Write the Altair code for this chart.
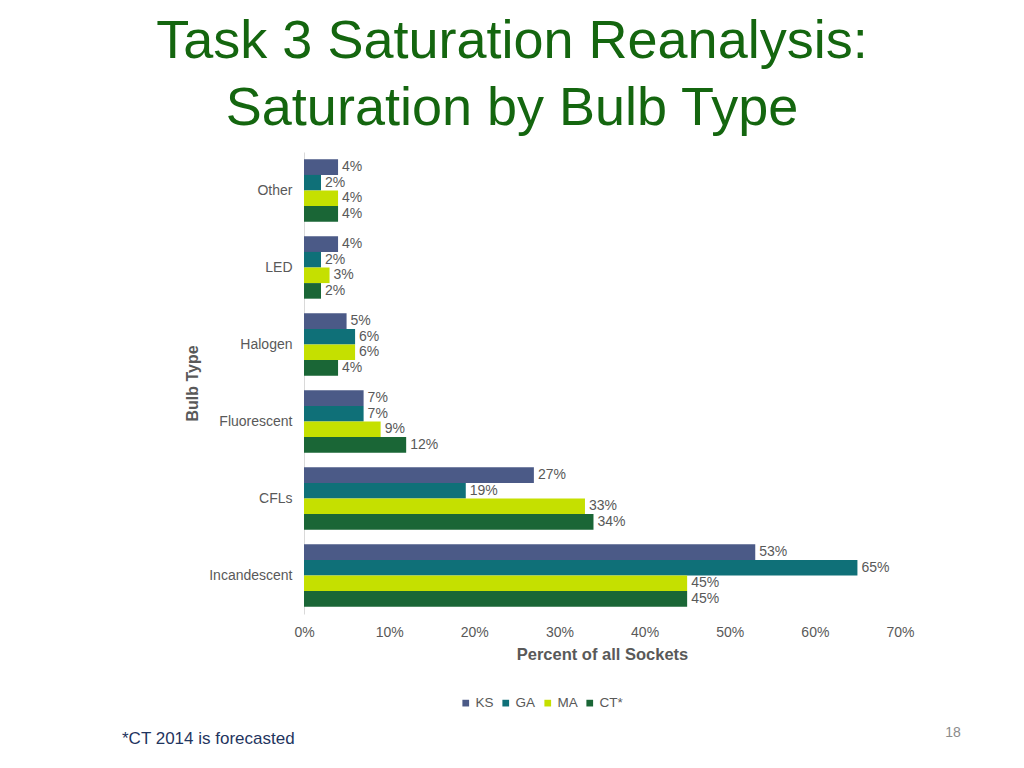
import altair as alt
import pandas as pd

bulb_types = ["Other", "LED", "Halogen", "Fluorescent", "CFLs", "Incandescent"]
states = ["KS", "GA", "MA", "CT*"]
ks = [4, 4, 5, 7, 27, 53]
ga = [2, 2, 6, 7, 19, 65]
ma = [4, 3, 6, 9, 33, 45]
ct = [4, 2, 4, 12, 34, 45]
colors = ["#4B5A87", "#0F7078", "#C5E000", "#1A6636"]
x_ticks = [0, 0.1, 0.2, 0.3, 0.4, 0.5, 0.6, 0.7]
title_lines = ["Task 3 Saturation Reanalysis:", "Saturation by Bulb Type"]
footnote = ["*CT 2014 is forecasted"]
page_number = ["18"]

rows = []
for s, vals in zip(states, [ks, ga, ma, ct]):
    for b, v in zip(bulb_types, vals):
        rows.append({"Bulb Type": b, "State": s, "Value": v / 100, "Label": f"{v}%"})
df = pd.DataFrame(rows)

FONT = "Liberation Sans"
GREY = "#595959"

base = alt.Chart(df).encode(
    y=alt.Y(
        "Bulb Type:N",
        sort=bulb_types,
        scale=alt.Scale(paddingInner=0.19, paddingOuter=0.095),
        axis=alt.Axis(
            title="Bulb Type",
            labelFontSize=14,
            labelColor=GREY,
            labelFont=FONT,
            labelPadding=12,
            ticks=False,
            domain=True,
            domainColor="#D9D9D9",
            grid=False,
            titleFontSize=16,
            titleFont=FONT,
            titleFontWeight="bold",
            titleColor=GREY,
            titlePadding=8,
        ),
    ),
    yOffset=alt.YOffset("State:N", sort=states, scale=alt.Scale(paddingInner=0, paddingOuter=0)),
)

bars = base.mark_bar().encode(
    x=alt.X(
        "Value:Q",
        scale=alt.Scale(domain=[0, 0.7]),
        axis=alt.Axis(
            title="Percent of all Sockets",
            format=".0%",
            values=x_ticks,
            labelFontSize=14,
            labelColor=GREY,
            labelFont=FONT,
            labelPadding=11,
            labelFlush=False,
            ticks=False,
            domain=False,
            grid=False,
            titleFontSize=16.5,
            titleFont=FONT,
            titleFontWeight="bold",
            titleColor=GREY,
            titlePadding=7,
        ),
    ),
    color=alt.Color(
        "State:N",
        sort=states,
        scale=alt.Scale(domain=states, range=colors),
        legend=alt.Legend(
            title=None,
            orient="none",
            direction="horizontal",
            legendX=155,
            legendY=544,
            symbolType="square",
            symbolSize=45,
            symbolStrokeWidth=0,
            labelFontSize=13.5,
            labelFont=FONT,
            labelColor=GREY,
            labelOffset=3,
            columnPadding=5,
        ),
    ),
)

labels = base.mark_text(align="left", baseline="middle", dx=4, fontSize=14, font=FONT, color=GREY).encode(
    x=alt.X("Value:Q"),
    text="Label:N",
)

foot = alt.Chart(pd.DataFrame({"t": footnote})).mark_text(
    align="left", baseline="middle", fontSize=17, font=FONT, color="#1F3560"
).encode(text="t:N", x=alt.value(-182), y=alt.value(587))

page = alt.Chart(pd.DataFrame({"t": page_number})).mark_text(
    align="center", baseline="middle", fontSize=14, font=FONT, color="#8C8C8C"
).encode(text="t:N", x=alt.value(649), y=alt.value(581))

chart = (
    alt.layer(bars, labels, foot, page)
    .properties(
        width=596,
        height=462,
        autosize=alt.AutoSizeParams(type="none"),
        padding={"left": 296, "top": 144, "right": 112, "bottom": 144},
        title=alt.TitleParams(
            text=title_lines,
            fontSize=54,
            font=FONT,
            fontWeight="normal",
            color="#14660F",
            anchor="middle",
            frame="group",
            dx=-90,
            dy=54,
            offset=16,
            baseline="bottom",
            lineHeight=67,
        ),
    )
    .configure(background="white")
    .configure_view(stroke=None, strokeWidth=0)
)

chart.save("out.html", embed_options={"renderer": "svg", "actions": False})
